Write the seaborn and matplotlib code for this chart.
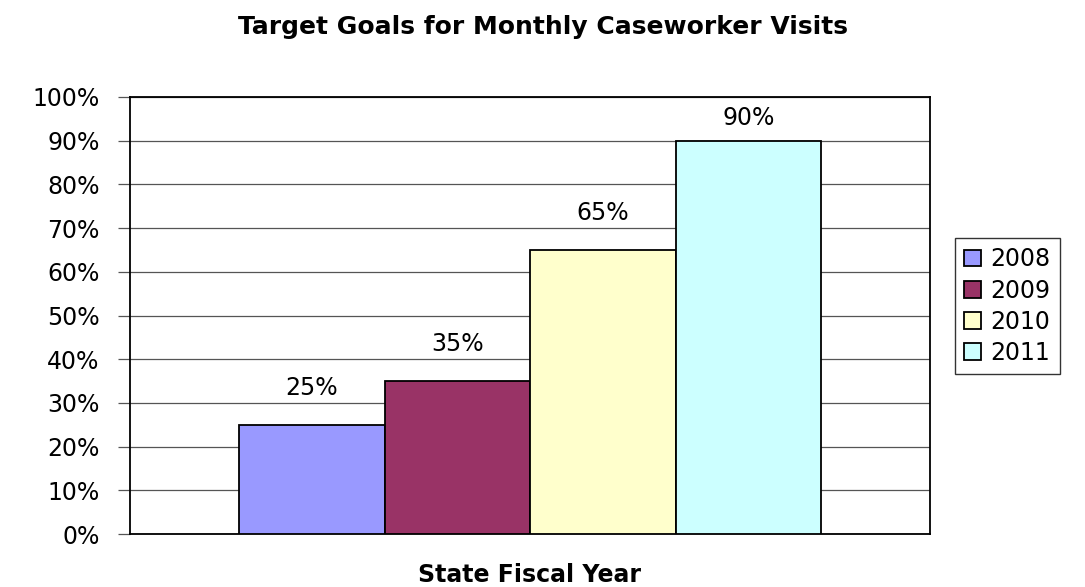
import matplotlib
matplotlib.use("Agg")
import matplotlib.pyplot as plt
import seaborn as sns
import pandas as pd
from matplotlib.ticker import PercentFormatter

category = ["State Fiscal Year"]
years = ["2008", "2009", "2010", "2011"]
values = [25, 35, 65, 90]
colors = ["#9999FF", "#993366", "#FFFFCC", "#CCFFFF"]

df = pd.DataFrame({"cat": category * len(years), "year": years, "value": values})

sns.set_style("white")
plt.rcParams["font.family"] = ["DejaVu Sans"]
plt.rcParams["text.color"] = "black"
plt.rcParams["axes.labelcolor"] = "black"
plt.rcParams["ytick.color"] = "black"

fig = plt.figure(figsize=(10.85, 5.87), dpi=100)
ax = fig.add_axes([130/1085, 1-534/587, 800/1085, 437/587])

sns.barplot(data=df, x="cat", y="value", hue="year", palette=colors,
            width=0.7275, dodge=True, edgecolor="black", linewidth=1.3,
            saturation=1, ax=ax, legend=True, zorder=3)

ax.set_ylim(0, 100)
ax.set_xlim(-0.5, 0.5)
ax.set_yticks(range(0, 101, 10))
ax.yaxis.set_major_formatter(PercentFormatter(decimals=0))
ax.grid(axis="y", color="#555555", linewidth=0.9, zorder=0)
ax.set_axisbelow(True)
ax.tick_params(axis="y", labelsize=17, length=9, width=0.9, color="#555555",
               pad=13, left=True, labelcolor="black")
ax.set_xticks([])
ax.set_xlabel("State Fiscal Year", fontsize=17, fontweight="bold", va="center")
ax.xaxis.set_label_coords(0.5, -41/437)
ax.set_ylabel("")
for s in ax.spines.values():
    s.set_color("black")
    s.set_linewidth(1.3)

n = len(ax.containers)
for i, cont in enumerate(ax.containers):
    pad = 8 if i == n - 1 else 18
    ax.bar_label(cont, fmt="%d%%", fontsize=17, padding=pad, color="black")

fig.text(0.5, 1-27/587, "Target Goals for Monthly Caseworker Visits", fontsize=18,
         fontweight="bold", ha="center", va="center")

leg = ax.legend(loc="upper left", bbox_to_anchor=(955/1085, 1-238/587),
                bbox_transform=fig.transFigure, fontsize=17, frameon=True,
                fancybox=False, edgecolor="black", handlelength=0.7,
                handleheight=0.7, handletextpad=0.4, labelspacing=0.3,
                borderaxespad=0, borderpad=0.4)
leg.get_frame().set_linewidth(1.0)
for t in leg.get_texts():
    t.set_color("black")

fig.savefig("out.png", dpi=100)
